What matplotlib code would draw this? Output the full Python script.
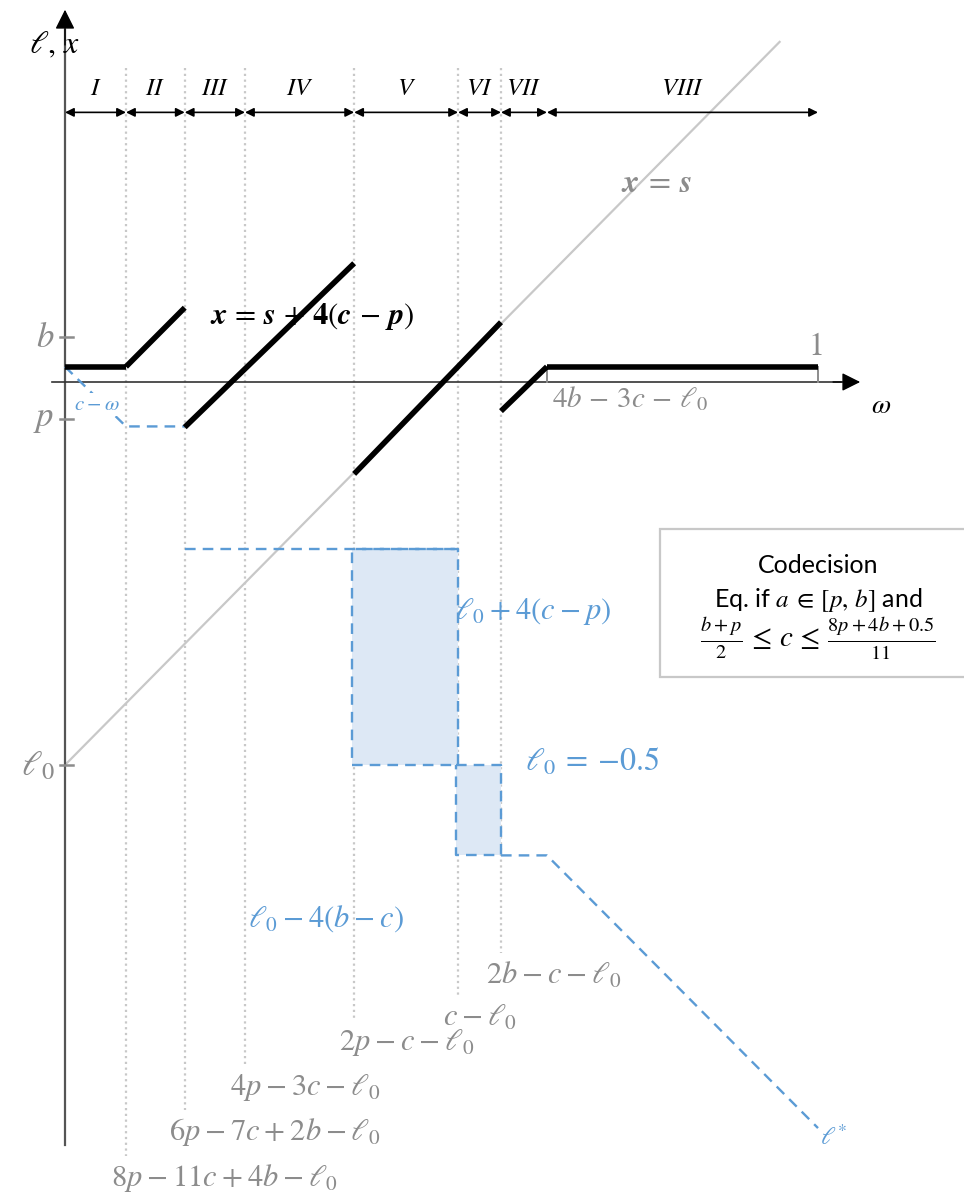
import matplotlib.pyplot as plt
from matplotlib.patches import Rectangle

plt.rcParams['mathtext.fontset'] = 'stix'
plt.rcParams['font.family'] = ['Lato', 'DejaVu Sans']

GRAY = '#8c8c8c'
LIGHT = '#c8c8c8'
BLUE = '#5b9bd5'
FILL = '#dde8f5'


def m(expr, gap=r'\:'):
    # math label with wider spacing around the operators
    for op in ['-', '+', '=', r'\leq', r'\in']:
        expr = expr.replace(' %s ' % op, '%s%s%s' % (gap, op, gap))
    return '$' + expr + '$'


# parameters of the example
b = 0.059
p = -0.048
ell0 = -0.5
flat = 0.020          # level of x in regions I and VIII

# region boundaries on the omega axis
breaks = [0.0, 0.081, 0.159, 0.239, 0.384, 0.522, 0.579, 0.640, 1.0]
regions = ['I', 'II', 'III', 'IV', 'V', 'VI', 'VII', 'VIII']

# lower end of the dotted guide lines and the threshold labelled there
guide_w = [0.081, 0.159, 0.239, 0.384, 0.522, 0.579]
guide_bottom = [-1.010, -0.950, -0.892, -0.833, -0.800, -0.745]
guide_labels = [r'8p - 11c + 4b - \ell_0', r'6p - 7c + 2b - \ell_0', r'4p - 3c - \ell_0',
                r'2p - c - \ell_0', r'c - \ell_0', r'2b - c - \ell_0']

# equilibrium x(omega), piecewise
x_pieces = [
    ([0.0, 0.081], [flat, flat]),
    ([0.081, 0.159], [flat, 0.097]),
    ([0.159, 0.384], [-0.059, 0.155]),
    ([0.384, 0.579], [-0.120, 0.078]),
    ([0.579, 0.640], [-0.038, flat]),
    ([0.640, 1.0], [flat, flat]),
]

# x = s reference line
s_w = [0.0, 0.949]
s_x = [ell0, 0.444]

# ell* (dashed blue)
lstar_w = [0.0, 0.081, 0.159]
lstar_v = [flat, -0.058, -0.058]
top_band = -0.218     # ell0 + 4(c - p)
low_band = -0.618     # ell0 - 4(b - c)
tail_w = [0.579, 0.640, 1.0]
tail_v = [low_band, low_band, -0.974]

fig = plt.figure(figsize=(9.64, 11.98), dpi=100)
ax = fig.add_axes([0, 0, 1, 1])
ax.set_xlim(-65 / 753, 899 / 753)
ax.set_ylim(-816 / 766, 382 / 766)
ax.axis('off')

# axes with arrow heads
ax.plot([0, 0], [-0.996, 0.46], color='#555555', lw=1.6, zorder=3)
ax.annotate('', xy=(0, 0.486), xytext=(0, 0.44),
            arrowprops=dict(arrowstyle='-|>', color='black', lw=1,
                            mutation_scale=30, shrinkA=0, shrinkB=0))
ax.plot([-0.017, 1.03], [0, 0], color='#333333', lw=1.2, zorder=3)
ax.annotate('', xy=(1.056, 0), xytext=(1.02, 0),
            arrowprops=dict(arrowstyle='-|>', color='black', lw=1,
                            mutation_scale=28, shrinkA=0, shrinkB=0))

# dotted guides
for w, bot in zip(guide_w, guide_bottom):
    ax.plot([w, w], [0.41, bot], color=LIGHT, ls=(0, (1, 1.6)), lw=1.6, zorder=1)

# region arrows
for i, name in enumerate(regions):
    ax.annotate('', xy=(breaks[i + 1], 0.352), xytext=(breaks[i], 0.352),
                arrowprops=dict(arrowstyle='<|-|>', color='black', lw=1.2,
                                mutation_scale=13, shrinkA=0, shrinkB=0))
    ax.text((breaks[i] + breaks[i + 1]) / 2, 0.385, '$\\mathit{%s}$' % name,
            ha='center', va='center', fontsize=18)

# x = s
ax.plot(s_w, s_x, color=LIGHT, lw=1.6, zorder=2)
ax.text(0.786, 0.26, m(r'\mathbfit{x} = \mathbfit{s}'), color=GRAY,
        ha='center', va='center', fontsize=23)

# ell* band
ax.add_patch(Rectangle((0.381, ell0), 0.522 - 0.381, top_band - ell0,
                       fc=FILL, ec='none', zorder=1))
ax.add_patch(Rectangle((0.519, low_band), 0.579 - 0.519, ell0 - low_band,
                       fc=FILL, ec='none', zorder=1))
dash = dict(color=BLUE, ls=(0, (4.5, 3)), lw=1.7, zorder=3)
ax.plot(lstar_w, lstar_v, **dash)
ax.plot([0.159, 0.522, 0.522, 0.381, 0.381, 0.522],
        [top_band, top_band, ell0, ell0, top_band, top_band], **dash)
ax.plot([0.519, 0.579, 0.579, 0.519, 0.519],
        [ell0, ell0, low_band, low_band, ell0], **dash)
ax.plot(tail_w, tail_v, **dash)

# equilibrium x
for w, v in x_pieces:
    ax.plot(w, v, color='black', lw=4, solid_capstyle='butt', zorder=4)

# ticks on the vertical axis
for val, lab in [(b, '$b$'), (p, '$p$'), (ell0, r'$\ell_0$')]:
    ax.plot([-0.007, 0.011], [val, val], color=GRAY, lw=1.8, zorder=3)
    ax.text(-0.014, val, lab, color=GRAY, ha='right', va='center', fontsize=25)
for w in [0.640, 1.0]:
    ax.plot([w, w], [0, flat], color=GRAY, lw=1.4, zorder=3)
ax.text(0.997, 0.047, '$1$', color=GRAY, ha='center', va='center', fontsize=23)
ax.text(0.647, -0.022, m(r'4b - 3c - \ell_0', r'\,'), color=GRAY, ha='left', va='center',
        fontsize=21)

# thresholds below the guides
for w, bot, lab in zip(guide_w, guide_bottom, guide_labels):
    ax.annotate(m(lab), xy=(w, bot), xytext=(-11, -16), textcoords='offset points',
                color=GRAY, ha='left', va='center', fontsize=22)

# labels
ax.text(-0.048, 0.44, r'$\ell,\, x$', ha='left', va='center', fontsize=23)
ax.text(1.07, -0.03, r'$\omega$', ha='left', va='center', fontsize=20)
ax.text(0.193, 0.086, m(r'\mathbfit{x} = \mathbfit{s} + \mathbf{4}(\mathbfit{c} - \mathbfit{p})', r'\,'),
        ha='left', va='center', fontsize=22)
ax.text(0.043, -0.029, m(r'c - \omega'), color=BLUE, ha='center', va='center', fontsize=15,
        bbox=dict(fc='white', ec='none', pad=1), zorder=5)
ax.text(0.518, -0.300, m(r'\ell_0 + 4(c - p)'), color=BLUE, ha='left', va='center',
        fontsize=22)
ax.text(0.611, -0.495, m(r'\ell_0 = {-}0.5'), color=BLUE, ha='left', va='center', fontsize=23)
ax.text(0.243, -0.700, m(r'\ell_0 - 4(b - c)'), color=BLUE, ha='left', va='center',
        fontsize=22)
ax.text(1.002, -0.985, r'$\ell^{*}$', color=BLUE, ha='left', va='center', fontsize=18)

# info box
ax.add_patch(Rectangle((0.790, -0.385), 0.45, 0.193, fc='white', ec=LIGHT, lw=1.6, zorder=2))
ax.text(1.0, -0.239, 'Codecision', ha='center', va='center', fontsize=18, zorder=3)
ax.text(1.0, -0.284, 'Eq. if ' + m(r'a \in [p,\, b]') + ' and', ha='center', va='center',
        fontsize=18, zorder=3)
ax.text(1.0, -0.336, m(r'\frac{b+p}{2} \leq c \leq \frac{8p+4b+0.5}{11}', r'\,'),
        ha='center', va='center', fontsize=21, zorder=3)

fig.savefig('out.png', dpi=100)
